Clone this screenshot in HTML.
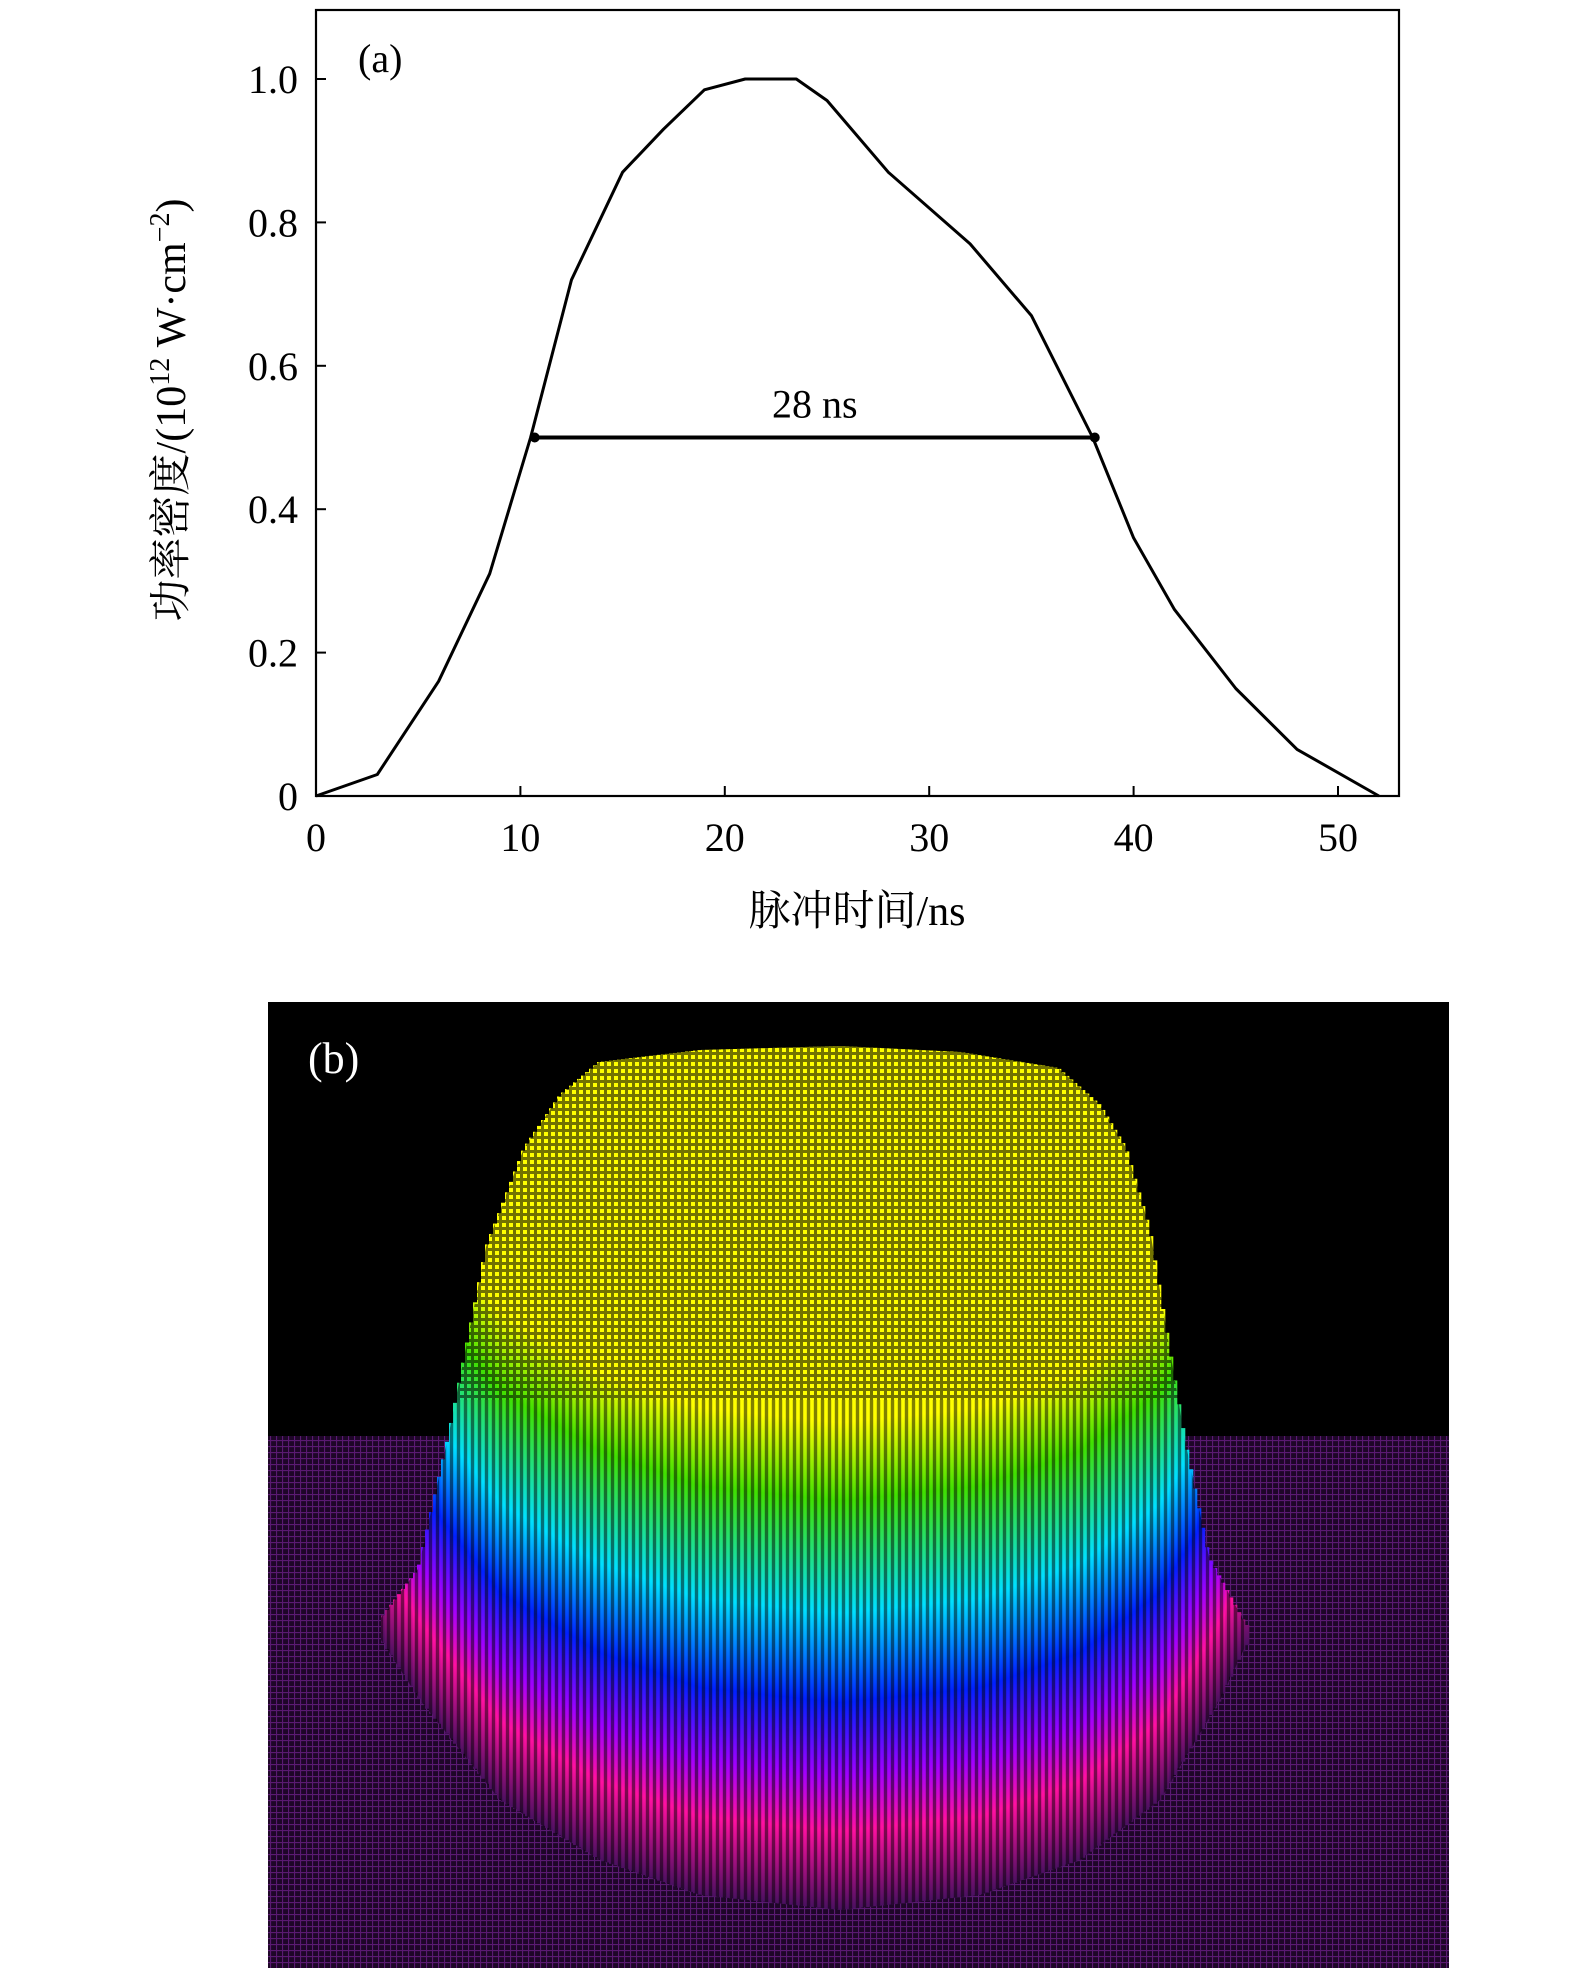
<!DOCTYPE html>
<html><head><meta charset="utf-8"><style>
body{margin:0;background:#fff;width:1575px;height:1978px;overflow:hidden}
svg{position:absolute;left:0;top:0}
text{font-family:"Liberation Serif","Noto Serif CJK SC",serif}
</style></head><body>
<svg id="s" width="1575" height="1978">
<defs>
<pattern id="pgrid" width="6" height="6" patternUnits="userSpaceOnUse"><rect width="6" height="6" fill="#1e0628"/><path d="M0 0.5H6M0.5 0V6" stroke="#5a1a72" stroke-width="1.2"/></pattern>
<pattern id="mesh" width="7" height="7" patternUnits="userSpaceOnUse"><path d="M0 3.5H7" stroke="#000" stroke-width="3"/><path d="M3.5 0V7" stroke="#000" stroke-width="3"/></pattern>
<pattern id="vmesh" width="7" height="7" patternUnits="userSpaceOnUse"><path d="M3.5 0V7" stroke="#000" stroke-width="3.4"/></pattern>
</defs>
<g id="pa"></g>
<g id="pb"></g>
</svg>
<script>
const times=[0,3,6,8.5,10.5,12.5,15,17,19,21,23.5,25,28,32,35,38,40,42,45,48,52];
const power=[0,0.03,0.16,0.31,0.5,0.72,0.87,0.93,0.985,1.0,1.0,0.97,0.87,0.77,0.67,0.5,0.36,0.26,0.15,0.065,0];
const xTicks=[0,10,20,30,40,50];
const yTicks=[0,0.2,0.4,0.6,0.8,1.0];
const yTickLabels=["0","0.2","0.4","0.6","0.8","1.0"];
const fwhm=[10.7,38.1];
const fwhmLevel=0.5;
const fwhmLabel="28 ns";
const NS="http://www.w3.org/2000/svg";
function mk(p,t,a,txt){const e=document.createElementNS(NS,t);for(const k in a)e.setAttribute(k,a[k]);if(txt!==undefined)e.textContent=txt;p.appendChild(e);return e;}
const X=v=>316+v*20.44, Y=v=>796-v*717;
const A=document.getElementById('pa');
let e=mk(A,'rect',{x:316,y:10,width:1083,height:786,fill:'none',stroke:'#000','stroke-width':2.2});


xTicks.forEach(t=>{
 let l=mk(A,'line',{x1:X(t),x2:X(t),y1:796,y2:786,stroke:'#000','stroke-width':2});
 
 
 let tx=mk(A,'text',{x:X(t),y:851,'font-size':40,'text-anchor':'middle'},String(t));
 
 
});
yTicks.forEach((t,i)=>{
 let l=mk(A,'line',{x1:316,x2:326,y1:Y(t),y2:Y(t),stroke:'#000','stroke-width':2});
 
 
 let tx=mk(A,'text',{x:298,y:Y(t)+14,'font-size':40,'text-anchor':'end'},yTickLabels[i]);
 
 
});
let d=times.map((t,i)=>(i?'L':'M')+X(t).toFixed(1)+' '+Y(power[i]).toFixed(1)).join(' ');
e=mk(A,'path',{d:d,fill:'none',stroke:'#000','stroke-width':3,'stroke-linejoin':'round'});


e=mk(A,'line',{x1:X(fwhm[0]),x2:X(fwhm[1]),y1:Y(fwhmLevel),y2:Y(fwhmLevel),stroke:'#000','stroke-width':4});


fwhm.forEach(f=>{let c=mk(A,'circle',{cx:X(f),cy:Y(fwhmLevel),r:5,fill:'#000'});
 
 });
e=mk(A,'text',{x:(X(fwhm[0])+X(fwhm[1]))/2,y:Y(fwhmLevel)-20,'font-size':40,'text-anchor':'middle'},fwhmLabel);


e=mk(A,'text',{x:358,y:72,'font-size':40},'(a)');


e=mk(A,'text',{x:857,y:925,'font-size':42,'text-anchor':'middle'},'脉冲时间/ns');


e=mk(A,'text',{x:0,y:0,'font-size':42,'text-anchor':'middle',transform:'translate(185,410) rotate(-90)'},'');


e.innerHTML='功率密度/(10<tspan font-size="28" dy="-16">12</tspan><tspan dy="16"> W·cm</tspan><tspan font-size="28" dy="-16">−2</tspan><tspan dy="16">)</tspan>';

// panel b
const B=document.getElementById('pb');
e=mk(B,'rect',{x:268,y:1002,width:1181,height:434,fill:'#000'});


e=mk(B,'rect',{x:268,y:1436,width:1181,height:532,fill:'url(#pgrid)'});


const topP=[[381,1618],[418,1569],[449,1433],[486,1247],[524,1148],[560,1095],[599,1062],[700,1050],[840,1046],[960,1052],[1058,1068],[1100,1105],[1126,1148],[1150,1230],[1163,1309],[1185,1440],[1209,1557],[1246,1625]];
const botP=[[381,1640],[420,1700],[500,1800],[600,1860],[700,1895],[840,1910],[980,1895],[1080,1860],[1160,1800],[1220,1700],[1246,1645]];
function interp(P,x){for(let i=1;i<P.length;i++){if(x<=P[i][0]){const a=P[i-1],b=P[i];return a[1]+(b[1]-a[1])*(x-a[0])/(b[0]-a[0]);}}return P[P.length-1][1];}
const defs=document.querySelector('defs');
const stops=[[0,'#ffff00'],[0.13,'#ffff00'],[0.27,'#40e000'],[0.47,'#00e0ff'],[0.63,'#0020ff'],[0.76,'#a000ff'],[0.86,'#ff10a0'],[1,'#4a1060']];
const surf=mk(B,'g',{});


for(let x=381;x<1246;x+=4){
 const t=interp(topP,x+2), b=interp(botP,x+2);
 const id='g'+x;
 const g=mk(defs,'linearGradient',{id:id,gradientUnits:'userSpaceOnUse',x1:0,y1:b-560,x2:0,y2:b});
 stops.forEach(s=>mk(g,'stop',{offset:s[0],'stop-color':s[1]}));
 const r=mk(surf,'rect',{x:x,y:t,width:4.3,height:b-t,fill:'url(#'+id+')'});
 
 
}
let clipPts=topP.map(p=>p.join(',')).join(' ')+' '+botP.slice().reverse().map(p=>p.join(',')).join(' ');
const cp=mk(defs,'clipPath',{id:'sc'});
mk(cp,'polygon',{points:clipPts});
e=mk(B,'rect',{x:381,y:1040,width:870,height:360,fill:'url(#mesh)',opacity:0.55,'clip-path':'url(#sc)'});


e=mk(B,'rect',{x:381,y:1400,width:870,height:520,fill:'url(#vmesh)',opacity:0.5,'clip-path':'url(#sc)'});


e=mk(B,'text',{x:308,y:1073,'font-size':44,fill:'#fff'},'(b)');


</script>
</body></html>
